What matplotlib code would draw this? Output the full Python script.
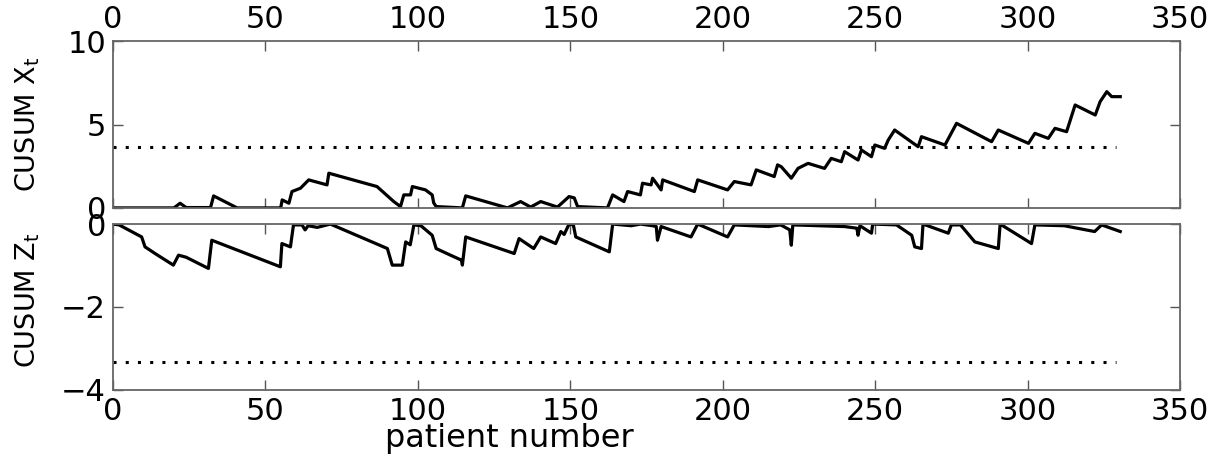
import matplotlib.pyplot as plt

plt.rcParams['font.family'] = ['DejaVu Sans']
plt.rcParams['mathtext.default'] = 'regular'

# CUSUM X_t (upper panel), vertices
x_top = [0, 20, 22, 24, 32, 33, 40.7, 55, 55.5, 57.7, 58.7, 61.5, 64.2, 70.2, 70.8,
         86.6, 92.1, 94.3, 95.4, 97.6, 98.2, 102.5, 104.7, 105.2, 106, 114.6, 115.7,
         129.4, 133.7, 137, 140.3, 145.8, 149.6, 151.3, 152.4, 162.2, 163.9, 167.6,
         168.8, 173.0, 173.7, 176.5, 177.0, 179.8, 180.3, 190.7, 191.8, 201.6, 203.8,
         209.3, 211, 216.9, 218, 219.2, 222.5, 224.7, 228, 233.4, 235.6, 238.9, 240,
         244.4, 245.5, 248.8, 249.9, 253.1, 254.3, 256.4, 264.1, 265.2, 272.9, 276.7,
         288.2, 290.4, 300.3, 302.4, 306.8, 309, 312.8, 315.6, 322.2, 323.8, 326,
         327.6, 330.4]
y_top = [0, 0, 0.28, 0.02, 0.02, 0.72, 0, 0, 0.48, 0.28, 0.98, 1.18, 1.68, 1.38, 2.08,
         1.28, 0.38, 0.08, 0.78, 0.78, 1.28, 1.08, 0.78, 0.3, 0.08, 0, 0.72,
         0, 0.38, 0.05, 0.38, 0.05, 0.68, 0.6, 0.08, 0, 0.78, 0.38,
         0.98, 0.78, 1.48, 1.38, 1.78, 1.08, 1.68, 0.98, 1.68, 1.08, 1.58,
         1.38, 2.28, 1.88, 2.58, 2.47, 1.78, 2.37, 2.67, 2.37, 2.97, 2.77, 3.37,
         2.87, 3.47, 3.07, 3.77, 3.57, 4.07, 4.67, 3.67, 4.27, 3.77, 5.07,
         3.97, 4.67, 3.87, 4.47, 4.17, 4.77, 4.57, 6.17, 5.57, 6.37, 6.97,
         6.67, 6.67]

# CUSUM Z_t (lower panel)
x_bot = [0, 2, 9.4, 10.5, 14, 19.8, 21.5, 24, 31.3, 32.4, 54.9, 55.4, 58.2, 59.2, 62,
         63, 64, 67, 71.3, 90, 91.6, 94.9, 96, 97.5, 98.7, 101, 104.7, 106, 110.7,
         114.3, 114.6, 115.7, 131.6, 133.2, 138, 140.3, 145.2, 146.9, 148, 149.6, 151,
         151.8, 162.8, 163.9, 170, 173, 177, 178.2, 178.6, 179.8, 189.6, 191.8, 201.6,
         203.8, 215, 219, 222, 222.5, 223, 240, 244, 244.4, 245, 248.8, 249.2, 257,
         262, 263, 265.2, 265.7, 274, 275, 278, 282.7, 290.4, 291, 301.3, 302.4, 312,
         322, 324.3, 330.4]
y_bot = [0, -0.02, -0.31, -0.55, -0.72, -0.99, -0.75, -0.8, -1.07, -0.39, -1.03, -0.47,
         -0.55, -0.02, -0.02, -0.14, -0.04, -0.08, 0, -0.59, -0.99, -0.99, -0.43, -0.5,
         -0.02, -0.04, -0.27, -0.59, -0.75, -0.87, -0.99, -0.31, -0.71, -0.35, -0.59,
         -0.31, -0.47, -0.18, -0.25, 0, -0.02, -0.31, -0.67, 0, -0.04, 0, -0.04, -0.06,
         -0.39, -0.06, -0.31, 0, -0.31, -0.02, -0.06, -0.02, -0.14, -0.51, -0.02,
         -0.06, -0.1, -0.27, -0.04, -0.22, 0, -0.02, -0.27, -0.55, -0.59, 0, -0.22,
         -0.02, -0.02, -0.43, -0.59, 0, -0.47, -0.02, -0.04, -0.18, -0.02, -0.18]

h_top = 3.65
h_bot = -3.33
x_end = 329

xticks = [0, 50, 100, 150, 200, 250, 300, 350]

fig = plt.figure(figsize=(12.19, 4.62), dpi=100)
ax1 = fig.add_axes([0.0927, 0.55, 0.8753, 0.361])
ax2 = fig.add_axes([0.0927, 0.156, 0.8753, 0.359])

ax1.plot(x_top, y_top, color='k', lw=2.3)
ax1.plot([0, x_end], [h_top, h_top], color='k', lw=2.2, linestyle=(0, (1, 3)))
ax2.plot(x_bot, y_bot, color='k', lw=2.3)
ax2.plot([0, x_end], [h_bot, h_bot], color='k', lw=2.2, linestyle=(0, (1, 3)))

ax1.set_xlim(0, 350)
ax1.set_ylim(0, 10)
ax1.set_yticks([0, 5, 10])
ax2.set_xlim(0, 350)
ax2.set_ylim(-4, 0)
ax2.set_yticks([-4, -2, 0])

for ax in (ax1, ax2):
    ax.set_xticks(xticks)
    ax.tick_params(direction='in', length=7, width=1, color='#555555',
                   top=True, right=True, labelsize=22, pad=5)
    for s in ax.spines.values():
        s.set_color('#666666')
        s.set_linewidth(1.3)

ax1.tick_params(labeltop=True, labelbottom=False)

ax1.set_ylabel('CUSUM X$_t$', fontsize=19.5)
ax2.set_ylabel('CUSUM Z$_t$', fontsize=19.5)
ax1.yaxis.set_label_coords(-0.067, 0.5)
ax2.yaxis.set_label_coords(-0.067, 0.54)

fig.text(0.418, 0.05, 'patient number', fontsize=23, ha='center', va='center')

fig.savefig('out.png', dpi=100)
